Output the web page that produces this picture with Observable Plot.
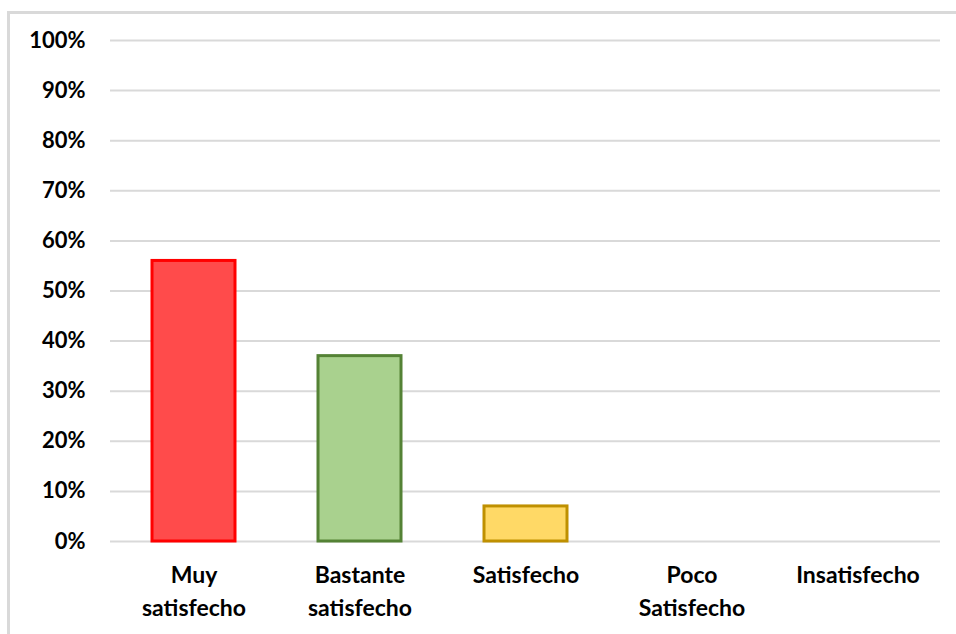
<!DOCTYPE html>
<html>
<head>
<meta charset="utf-8">
<script src="https://cdn.jsdelivr.net/npm/d3@7"></script>
<script src="https://cdn.jsdelivr.net/npm/@observablehq/plot@0.6"></script>
<style>
  html, body { margin: 0; padding: 0; background: #fff; overflow: hidden; width: 956px; height: 634px; }
  #frame { position: absolute; left: 7px; top: 11px; width: 1000px; height: 700px;
           border-left: 3px solid #d9d9d9; border-top: 3px solid #d9d9d9; box-sizing: border-box; }
  #chart { position: absolute; left: 0; top: 0; }
  svg { font-family: Lato, "Open Sans", sans-serif; }
</style>
</head>
<body>
<div id="frame"></div>
<div id="chart"></div>
<script>
const categories = ["Muy satisfecho", "Bastante satisfecho", "Satisfecho", "Poco Satisfecho", "Insatisfecho"];
const tickLabels = ["Muy\nsatisfecho", "Bastante\nsatisfecho", "Satisfecho", "Poco\nSatisfecho", "Insatisfecho"];
const values = [0.56, 0.37, 0.07, 0, 0];
const fills = ["#FF4B4B", "#A9D18E", "#FFD966", "#FFFFFF", "#FFFFFF"];
const strokes = ["#FF0000", "#548235", "#BF9000", "#FFFFFF", "#FFFFFF"];
const yTicks = [0, 0.1, 0.2, 0.3, 0.4, 0.5, 0.6, 0.7, 0.8, 0.9, 1.0];

const data = categories.map((c, i) => ({category: c, value: values[i], fill: fills[i], stroke: strokes[i]}));
const labelOf = new Map(categories.map((c, i) => [c, tickLabels[i]]));

const chart = Plot.plot({
  width: 956,
  height: 634,
  marginLeft: 110,
  marginRight: 16,
  marginTop: 40,
  marginBottom: 93,
  style: {fontFamily: "Lato, 'Open Sans', sans-serif", background: "transparent"},
  x: {domain: categories, paddingInner: 0.5, paddingOuter: 0.25},
  y: {domain: [0, 1]},
  color: {type: "identity"},
  marks: [
    Plot.ruleY(yTicks, {stroke: "#d9d9d9", strokeWidth: 2}),
    Plot.barY(data.filter(d => d.value > 0), {
      x: "category", y: "value", fill: "fill", stroke: "stroke", strokeWidth: 3
    }),
    Plot.axisY(yTicks, {
      tickSize: 0, tickPadding: 25, tickFormat: d3.format(".0%"),
      fontSize: 22, fontWeight: "bold", fill: "#000", label: null
    }),
    Plot.axisX({
      tickSize: 0, tickPadding: 18, tickFormat: d => labelOf.get(d),
      fontSize: 23, fontWeight: "bold", fill: "#000", lineHeight: 1.43, label: null
    })
  ]
});
document.getElementById("chart").appendChild(chart);
</script>
</body>
</html>
